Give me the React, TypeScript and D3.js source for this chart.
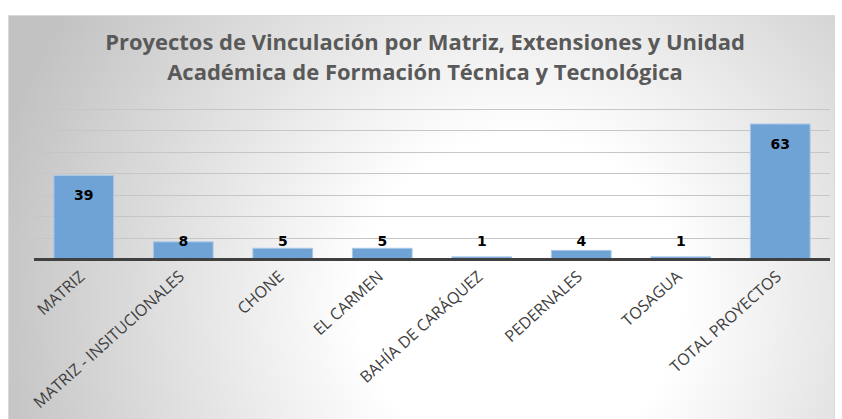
import { useEffect, useRef } from 'react';
import * as d3 from 'd3';

const categories = [
  'MATRIZ',
  'MATRIZ - INSITUCIONALES',
  'CHONE',
  'EL CARMEN',
  'BAHÍA DE CARÁQUEZ',
  'PEDERNALES',
  'TOSAGUA',
  'TOTAL PROYECTOS',
];
const values = [39, 8, 5, 5, 1, 4, 1, 63];
const gridTicks = [0, 10, 20, 30, 40, 50, 60, 70];
const titleLines = [
  'Proyectos de Vinculación por Matriz, Extensiones y Unidad',
  'Académica de Formación Técnica y Tecnológica',
];

const App = () => {
  const ref = useRef<SVGSVGElement>(null);

  // chart frame and plot area
  const width = 842, height = 419;
  const frame = { x: 8, y: 15, w: 826, h: 410 };
  const plot = { left: 34, right: 830, top: 109, bottom: 259 };

  useEffect(() => {
    const svg = d3.select(ref.current);
    svg.selectAll('*').remove();

    const defs = svg.append('defs');
    const grad = defs.append('radialGradient')
      .attr('id', 'bg')
      .attr('gradientUnits', 'userSpaceOnUse')
      .attr('cx', 520).attr('cy', 300).attr('r', 540);
    grad.append('stop').attr('offset', '0').attr('stop-color', '#ffffff');
    grad.append('stop').attr('offset', '0.3').attr('stop-color', '#ffffff');
    grad.append('stop').attr('offset', '1').attr('stop-color', '#c2c2c2');

    svg.append('rect')
      .attr('x', frame.x + 0.5).attr('y', frame.y + 0.5)
      .attr('width', frame.w).attr('height', frame.h)
      .attr('fill', 'url(#bg)')
      .attr('stroke', '#d9d9d9');

    const x = d3.scaleBand<string>()
      .domain(categories)
      .range([plot.left, plot.right])
      .paddingInner(0.4)
      .paddingOuter(0.2);

    const y = d3.scaleLinear()
      .domain([0, 70])
      .range([plot.bottom, plot.top]);

    // gridlines
    svg.append('g')
      .selectAll('line')
      .data(gridTicks.slice(1))
      .join('line')
      .attr('x1', plot.left).attr('x2', plot.right)
      .attr('y1', d => Math.round(y(d)) + 0.5)
      .attr('y2', d => Math.round(y(d)) + 0.5)
      .attr('stroke', '#c6c6c6')
      .attr('stroke-width', 1);

    // bars
    svg.append('g')
      .selectAll('rect')
      .data(values)
      .join('rect')
      .attr('x', (d, i) => x(categories[i])!)
      .attr('y', d => y(d))
      .attr('width', x.bandwidth())
      .attr('height', d => plot.bottom - y(d))
      .attr('fill', '#6fa3d6')
      .attr('stroke', '#a9c8e8')
      .attr('stroke-width', 1);

    // axis line
    svg.append('line')
      .attr('x1', plot.left).attr('x2', plot.right)
      .attr('y1', plot.bottom + 0.5).attr('y2', plot.bottom + 0.5)
      .attr('stroke', '#404040')
      .attr('stroke-width', 3);

    // data labels (inside end, pushed above the axis for short bars)
    svg.append('g')
      .selectAll('text')
      .data(values)
      .join('text')
      .attr('x', (d, i) => x(categories[i])! + x.bandwidth() / 2)
      .attr('y', d => Math.min(y(d) + 20, plot.bottom - 18))
      .attr('dy', '0.36em')
      .attr('text-anchor', 'middle')
      .attr('font-family', '"DejaVu Sans", sans-serif')
      .attr('font-weight', 'bold')
      .attr('font-size', 14)
      .attr('fill', '#000')
      .text(d => d);

    // category labels, rotated
    svg.append('g')
      .selectAll('text')
      .data(categories)
      .join('text')
      .attr('transform', d => {
        const cx = x(d)! + x.bandwidth() / 2 + 2;
        return `translate(${cx},${plot.bottom + 19}) rotate(-42)`;
      })
      .attr('text-anchor', 'end')
      .attr('font-family', '"Open Sans", sans-serif')
      .attr('font-size', 16)
      .attr('fill', '#404040')
      .text(d => d);

    // title, sized so the first line spans the same width as the original
    const title = svg.append('g')
      .selectAll('text')
      .data(titleLines)
      .join('text')
      .attr('x', 425)
      .attr('y', (d, i) => 50 + i * 30)
      .attr('text-anchor', 'middle')
      .attr('font-family', '"Open Sans", sans-serif')
      .attr('font-weight', 'bold')
      .attr('font-size', 20)
      .attr('fill', '#595959')
      .text(d => d);
    const first = title.node() as SVGTextElement | null;
    if (first) {
      const len = first.getComputedTextLength();
      if (len > 0) title.attr('font-size', 20 * 640 / len);
    }
  }, []);

  return (
    <svg
      ref={ref}
      width={width}
      height={height}
      style={{ position: 'absolute', left: 0, top: 0, background: '#fff' }}
    />
  );
};

export default App;
